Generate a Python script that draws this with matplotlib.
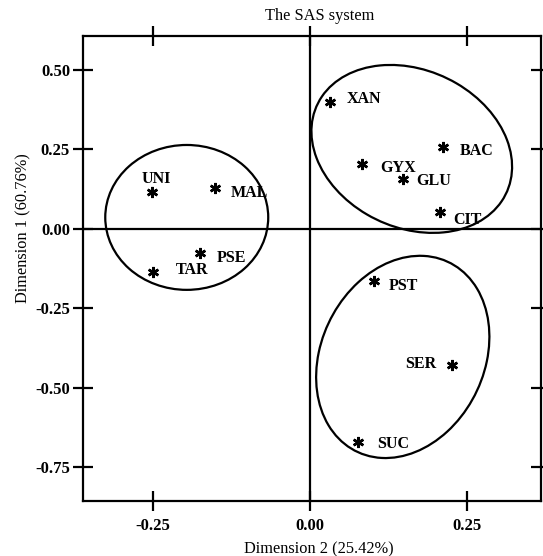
import matplotlib
matplotlib.use("Agg")
import matplotlib.pyplot as plt
from matplotlib.patches import Ellipse

# ---- data ----
labels = ["UNI", "MAL", "PSE", "TAR", "XAN", "BAC", "GYX", "GLU", "CIT", "PST", "SER", "SUC"]
dim2 = [-0.251, -0.151, -0.175, -0.250, 0.031, 0.212, 0.083, 0.148, 0.207, 0.101, 0.225, 0.076]
dim1 = [0.117, 0.130, -0.076, -0.137, 0.400, 0.257, 0.203, 0.157, 0.054, -0.163, -0.430, -0.671]

# cluster ellipses: centre x, centre y, width, height, angle (data units)
ell_cx = [-0.196, 0.1616, 0.1473]
ell_cy = [0.036, 0.2516, -0.4031]
ell_w = [0.259, 0.308, 0.2686]
ell_h = [0.456, 0.535, 0.6394]
ell_ang = [0.0, 10.9, -6.0]

xticks = [-0.25, 0.00, 0.25]
yticks = [-0.75, -0.50, -0.25, 0.00, 0.25, 0.50]

# label offsets in pixels and alignment (layout only)
offsets = {
    "UNI": (4, 15, "center"), "MAL": (16, -3, "left"), "PSE": (17, -3, "left"),
    "TAR": (23, 4, "left"), "XAN": (17, 5, "left"), "BAC": (16, -2, "left"),
    "GYX": (18, -2, "left"), "GLU": (13, 0, "left"), "CIT": (13, -6, "left"),
    "PST": (15, -3, "left"), "SER": (-15, 3, "right"), "SUC": (19, 0, "left"),
}

plt.rcParams["font.family"] = ["Liberation Serif", "DejaVu Serif"]
plt.rcParams["axes.unicode_minus"] = False

W, H = 543, 556
fig = plt.figure(figsize=(W / 100, H / 100), dpi=100)
L, R, T, B = 83.3, 541.0, 36.0, 500.5
ax = fig.add_axes([L / W, 1 - B / H, (R - L) / W, (B - T) / H])
ax.set_xlim(-0.3604, 0.367)
ax.set_ylim(-0.855, 0.607)

for s in ax.spines.values():
    s.set_linewidth(1.6)
    s.set_color("black")

ax.axvline(0, color="black", lw=1.6, zorder=1)
ax.axhline(0, color="black", lw=1.6, zorder=1)

for cx, cy, w, h, a in zip(ell_cx, ell_cy, ell_w, ell_h, ell_ang):
    ax.add_patch(Ellipse((cx, cy), w, h, angle=a, fill=False, ec="black", lw=1.6, zorder=2))

ax.plot(dim2, dim1, linestyle="none", marker=(6, 2, 0), ms=8, mew=1.8, color="black", zorder=3)

for lab, x, y in zip(labels, dim2, dim1):
    dx, dy, ha = offsets[lab]
    ax.annotate(lab, (x, y), xytext=(dx, dy), textcoords="offset pixels",
                ha=ha, va="center_baseline", fontsize=11.5, fontweight="bold")

ax.set_xticks(xticks)
ax.set_yticks(yticks)
ax.set_xticklabels([f"{v:.2f}" for v in xticks], fontweight="bold", fontsize=12)
ax.set_yticklabels([f"{v:.2f}" for v in yticks], fontweight="bold", fontsize=12)
ax.tick_params(axis="both", direction="inout", length=15, width=1.6,
               top=True, right=True, labeltop=False, labelright=False)
ax.tick_params(axis="x", pad=5)
ax.tick_params(axis="y", pad=2)

fig.text(320 / W, 1 - 15.6 / H, "The SAS system", ha="center", va="center", fontsize=11.8)
fig.text(319 / W, 1 - 549 / H, "Dimension 2 (25.42%)", ha="center", va="center", fontsize=11.8)
fig.text(23 / W, 1 - 228 / H, "Dimension 1 (60.76%)", ha="center", va="center",
         rotation=90, fontsize=11.8)

fig.savefig("out.png", dpi=100)
